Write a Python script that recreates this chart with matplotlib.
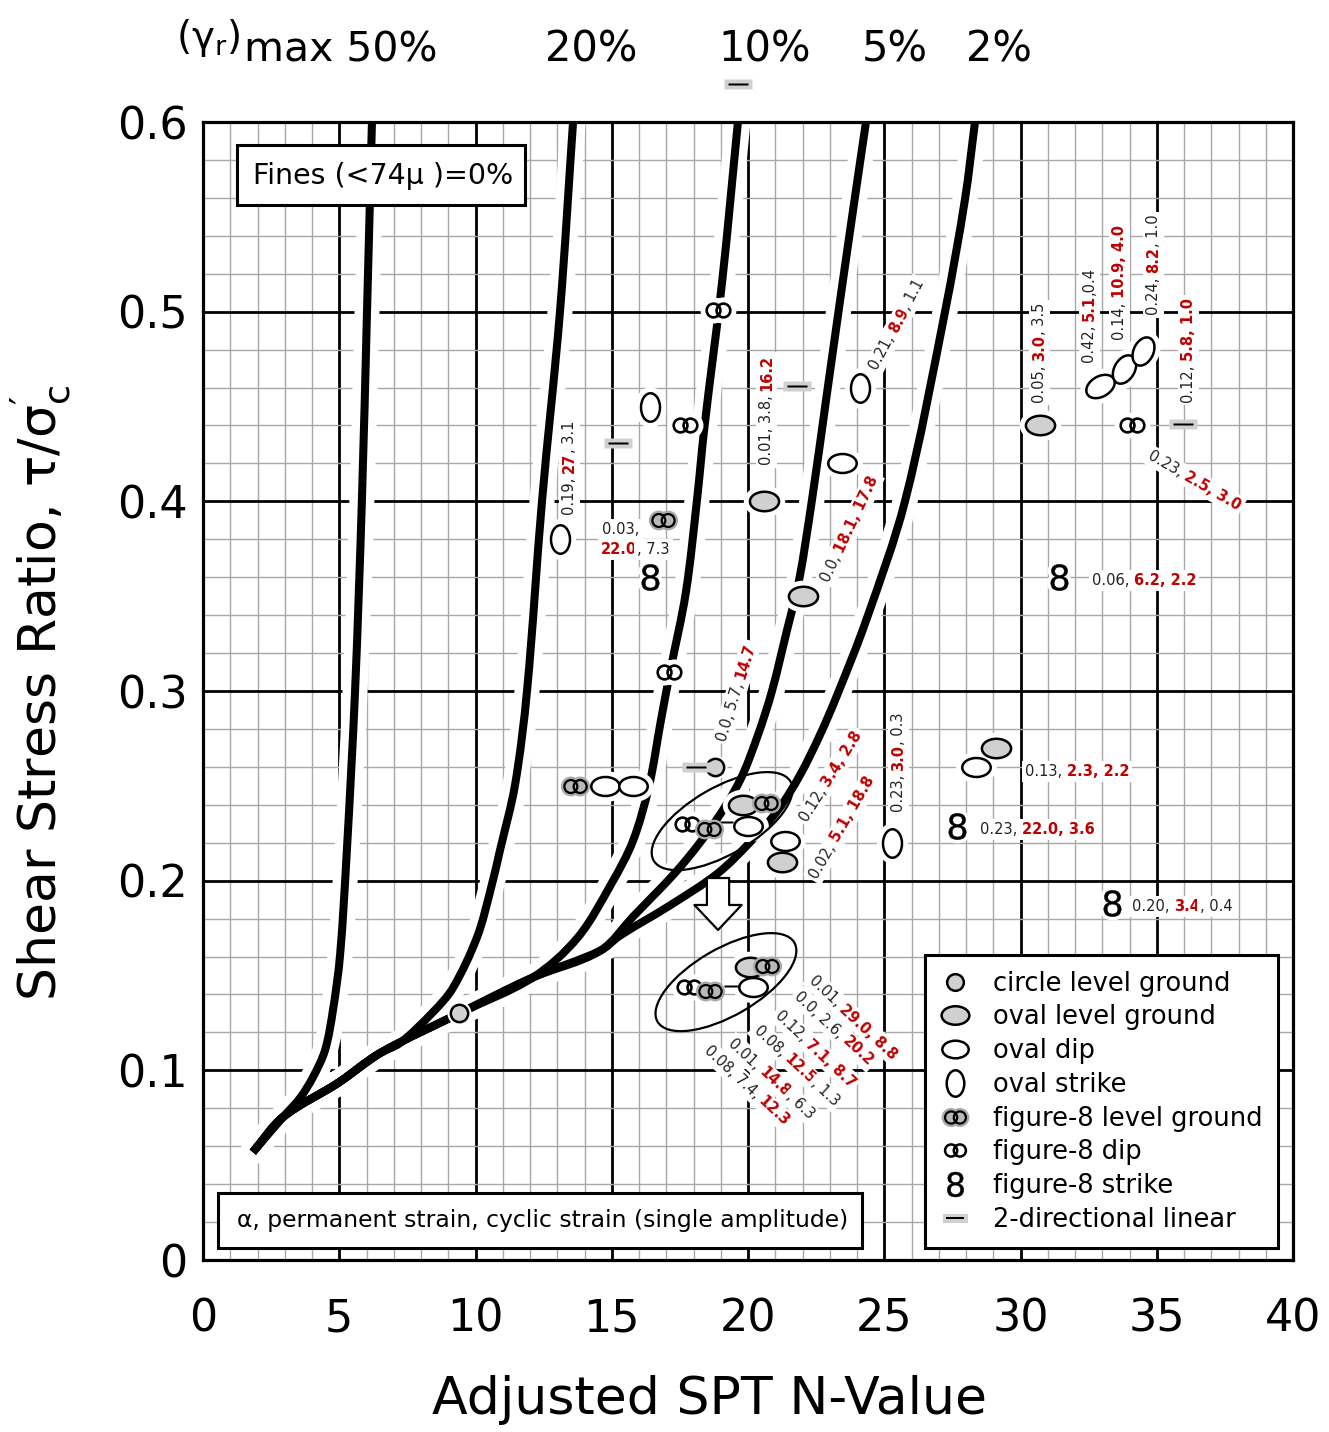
import numpy as np
import matplotlib
matplotlib.use("Agg")
import matplotlib.pyplot as plt
from matplotlib.path import Path
from matplotlib.transforms import Affine2D, ScaledTranslation
from matplotlib.patches import Ellipse, Rectangle, PathPatch
from matplotlib.lines import Line2D
from matplotlib.legend_handler import HandlerTuple
from matplotlib.font_manager import FontProperties
from matplotlib.ticker import MultipleLocator

plt.rcParams['font.family'] = ['DejaVu Sans']
plt.rcParams['mathtext.fontset'] = 'dejavusans'

# ---------------- data: curves of (gamma_r)max ----------------
trunk_x = [1.83, 2.94, 4.95, 6.50, 9.43, 12.11, 14.57]
trunk_y = [0.0569, 0.0754, 0.0933, 0.1091, 0.1302, 0.149, 0.163]

c50_x = [1.83, 2.94, 3.56, 4.04, 4.48, 4.77, 5.03, 5.28, 5.58, 5.83, 6.02, 6.20]
c50_y = [0.0569, 0.0754, 0.0854, 0.0965, 0.1107, 0.1318, 0.1608, 0.2161, 0.300, 0.400, 0.5008, 0.600]

c20_x = trunk_x[:4] + [7.23, 8.44, 9.17, 10.06, 10.55, 10.90, 11.45, 11.89, 12.44, 13.10, 13.58]
c20_y = trunk_y[:4] + [0.1144, 0.1307, 0.1434, 0.1703, 0.1950, 0.2161, 0.2504, 0.300, 0.400, 0.500, 0.600]

c10_x = trunk_x[:6] + [13.75, 15.01, 15.78, 16.37, 16.81, 17.14, 17.72, 18.13, 18.40, 19.06, 19.63]
c10_y = trunk_y[:6] + [0.170, 0.199, 0.221, 0.250, 0.285, 0.310, 0.352, 0.401, 0.439, 0.517, 0.600]

c5_x = trunk_x + [15.78, 17.50, 18.79, 19.71, 20.37, 20.88, 21.43, 21.87, 22.35, 22.86, 23.38, 23.85, 24.33]
c5_y = trunk_y + [0.181, 0.207, 0.231, 0.253, 0.277, 0.300, 0.332, 0.358, 0.401, 0.453, 0.506, 0.553, 0.600]

c2_x = trunk_x + [15.30, 17.14, 18.90, 20.15, 21.10, 21.91, 22.64, 23.27, 24.33, 25.76, 27.23, 27.96, 28.33]
c2_y = trunk_y + [0.171, 0.187, 0.204, 0.2214, 0.2372, 0.2557, 0.2768, 0.2978, 0.337, 0.400, 0.500, 0.559, 0.600]

curve_names = ["50%", "20%", "10%", "5%", "2%"]

# ---------------- data: observation symbols ----------------
circ_lg_x = [9.40, 18.80]
circ_lg_y = [0.130, 0.260]
oval_lg_x = [20.60, 22.00, 30.70, 29.10, 21.25, 19.80, 20.07]
oval_lg_y = [0.400, 0.350, 0.440, 0.270, 0.210, 0.240, 0.1545]
oval_dip_x = [23.45, 28.37, 21.35, 14.75, 15.78, 20.00, 20.18]
oval_dip_y = [0.420, 0.260, 0.221, 0.250, 0.250, 0.229, 0.144]
oval_tilt_x = [32.90, 33.80, 34.50]
oval_tilt_y = [0.461, 0.470, 0.479]
oval_tilt_ang = [30, 60, 65]
oval_strike_x = [13.10, 16.40, 24.10, 25.30]
oval_strike_y = [0.380, 0.450, 0.460, 0.220]
f8_lg_x = [16.88, 13.65, 18.57, 20.65, 18.60, 20.70]
f8_lg_y = [0.390, 0.250, 0.227, 0.241, 0.142, 0.155]
f8_dip_x = [17.70, 18.90, 17.10, 34.10, 17.75, 17.83]
f8_dip_y = [0.440, 0.501, 0.310, 0.440, 0.230, 0.144]
f8_strike_x = [16.40, 31.40, 27.67, 33.36]
f8_strike_y = [0.360, 0.360, 0.229, 0.188]
two_dir_x = [15.23, 21.80, 35.96, 18.10, 19.63]
two_dir_y = [0.431, 0.461, 0.441, 0.260, 0.620]
dash_x = [19.15, 19.40]
dash_y = [0.231, 0.1444]

# group ellipses (centre) and arrow
group_x = [19.05, 19.19]
group_y = [0.2314, 0.1465]
arrow_x = 18.9
arrow_y0, arrow_y1 = 0.2014, 0.174

# annotation labels: alpha, permanent strain, cyclic strain (red = bold)
lab_x = [13.39, 14.64, 14.61, 20.62, 24.55, 22.79, 18.97, 21.98, 22.35, 25.47,
         30.64, 32.48, 33.58, 34.83, 36.11, 34.75, 32.62, 30.17, 28.51, 34.09,
         22.35, 21.83, 21.10, 20.33, 19.41, 18.50]
lab_y = [0.3927, 0.386, 0.3753, 0.419, 0.470, 0.358, 0.274, 0.232, 0.202, 0.236,
         0.452, 0.473, 0.485, 0.498, 0.452, 0.4254, 0.359, 0.2583, 0.2277, 0.1871,
         0.1492, 0.1407, 0.1307, 0.1228, 0.1160, 0.1123]
lab_ang = [90, 0, 0, 90, 62, 65, 73, 58, 60, 90,
           90, 90, 90, 90, 90, -30, 0, 0, 0, 0,
           -43, -43, -43, -43, -43, -43]
lab_parts = [
    [("0.19, ", 0), ("27", 1), (", 3.1", 0)],
    [("0.03,", 0)],
    [("22.0", 1), (", 7.3", 0)],
    [("0.01, 3.8, ", 0), ("16.2", 1)],
    [("0.21, ", 0), ("8.9", 1), (", 1.1", 0)],
    [("0.0, ", 0), ("18.1, 17.8", 1)],
    [("0.0, 5.7, ", 0), ("14.7", 1)],
    [("0.12, ", 0), ("3.4, 2.8", 1)],
    [("0.02, ", 0), ("5.1, 18.8", 1)],
    [("0.23, ", 0), ("3.0", 1), (", 0.3", 0)],
    [("0.05, ", 0), ("3.0", 1), (", 3.5", 0)],
    [("0.42, ", 0), ("5.1", 1), (",0.4", 0)],
    [("0.14, ", 0), ("10.9, 4.0", 1)],
    [("0.24, ", 0), ("8.2", 1), (", 1.0", 0)],
    [("0.12, ", 0), ("5.8, 1.0", 1)],
    [("0.23, ", 0), ("2.5, 3.0", 1)],
    [("0.06, ", 0), ("6.2, 2.2", 1)],
    [("0.13, ", 0), ("2.3, 2.2", 1)],
    [("0.23, ", 0), ("22.0, 3.6", 1)],
    [("0.20, ", 0), ("3.4", 1), (", 0.4", 0)],
    [("0.01, ", 0), ("29.0, 8.8", 1)],
    [("0.0, 2.6, ", 0), ("20.2", 1)],
    [("0.12, ", 0), ("7.1, 8.7", 1)],
    [("0.08, ", 0), ("12.5", 1), (", 1.3", 0)],
    [("0.01, ", 0), ("14.8", 1), (", 6.3", 0)],
    [("0.08, 7.4, ", 0), ("12.3", 1)],
]

x_ticks = [0, 5, 10, 15, 20, 25, 30, 35, 40]
y_ticks = [0, 0.1, 0.2, 0.3, 0.4, 0.5, 0.6]
y_ticklabels = ["0", "0.1", "0.2", "0.3", "0.4", "0.5", "0.6"]

legend_labels = ["circle level ground", "oval level ground", "oval dip", "oval strike",
                 "figure-8 level ground", "figure-8 dip", "figure-8 strike", "2-directional linear"]

# ---------------- figure ----------------
W, H = 1329, 1432
fig = plt.figure(figsize=(W / 100, H / 100), dpi=100)
ax = fig.add_axes([203 / W, 1 - 1260 / H, 1090 / W, 1138 / H])
ax.set_xlim(0, 40)
ax.set_ylim(0, 0.6)

ax.xaxis.set_minor_locator(MultipleLocator(1))
ax.yaxis.set_minor_locator(MultipleLocator(0.02))
ax.set_xticks(x_ticks)
ax.set_xticklabels([str(v) for v in x_ticks])
ax.set_yticks(y_ticks)
ax.set_yticklabels(y_ticklabels)
ax.set_axisbelow(True)
ax.grid(which='minor', color='#a8a8a8', lw=1.0)
ax.grid(which='major', color='black', lw=2.0)
ax.tick_params(which='both', length=0)
ax.tick_params(axis='x', labelsize=32, pad=27)
ax.tick_params(axis='y', labelsize=32, pad=11)
for sp in ax.spines.values():
    sp.set_linewidth(2.3)

ax.set_xlabel("Adjusted SPT N-Value", fontsize=37.5)
ax.xaxis.set_label_coords(0.465, -0.101)
ax.set_ylabel(r"Shear Stress Ratio, $\mathregular{τ/σ^{\prime}_{c}}$", fontsize=37.5)
ax.yaxis.set_label_coords(-0.119, 0.498)


# curves: smooth cubic path through the read points (white halo, then black line)
def smooth_path(xs, ys):
    P = ax.transData.transform(np.column_stack([xs, ys]))
    n = len(P)
    verts = [P[0]]
    codes = [Path.MOVETO]
    for i in range(n - 1):
        p0 = P[i - 1] if i > 0 else P[i]
        p1, p2 = P[i], P[i + 1]
        p3 = P[i + 2] if i + 2 < n else P[i + 1]
        d = np.linalg.norm(p2 - p1)
        t1 = (p2 - p0) / np.linalg.norm(p2 - p0)
        t2 = (p3 - p1) / np.linalg.norm(p3 - p1)
        verts += [p1 + t1 * d / 3, p2 - t2 * d / 3, p2]
        codes += [Path.CURVE4] * 3
    return Path(ax.transData.inverted().transform(np.array(verts)), codes)


curves = [(c50_x, c50_y), (c20_x, c20_y), (c10_x, c10_y), (c5_x, c5_y), (c2_x, c2_y)]
paths = [smooth_path(cx, cy) for cx, cy in curves]
for p in paths:
    ax.add_patch(PathPatch(p, fill=False, ec='white', lw=18, capstyle='round', joinstyle='round', zorder=2))
for p in paths:
    ax.add_patch(PathPatch(p, fill=False, ec='black', lw=5.8, capstyle='butt', joinstyle='round', zorder=3))


# ---------------- marker shapes ----------------
def ell(w, h, ang=0):
    return Path.unit_circle().transformed(Affine2D().scale(w, h).rotate_deg(ang))


def rect(w, h):
    return Path([(-w / 2, -h / 2), (w / 2, -h / 2), (w / 2, h / 2), (-w / 2, h / 2), (-w / 2, -h / 2)],
                [Path.MOVETO, Path.LINETO, Path.LINETO, Path.LINETO, Path.CLOSEPOLY])


oval_h = ell(1.5, 1.0)
oval_v = ell(1.0, 1.5)
fig8 = Path.make_compound_path(
    Path.unit_circle().transformed(Affine2D().scale(0.5).translate(-0.36, 0)),
    Path.unit_circle().transformed(Affine2D().scale(0.5).translate(0.36, 0)))
grey_rect = rect(2.0, 0.72)
black_bar = rect(2.0, 0.22)

GREY = '#d0d0d0'
HALO_G = '#a9a9a9'


def mk(xs, ys, marker, ms, mfc, mec='black', mew=1.8, halo=3.5, z=5, clip=True):
    if halo:
        ax.plot(xs, ys, ls='none', marker=marker, ms=ms, mfc='white', mec='white',
                mew=mew + 2 * halo, zorder=z - 1, clip_on=clip)
    ax.plot(xs, ys, ls='none', marker=marker, ms=ms, mfc=mfc, mec=mec, mew=mew, zorder=z, clip_on=clip)


mk(circ_lg_x, circ_lg_y, 'o', 12.5, GREY, halo=1.5)
mk(oval_lg_x, oval_lg_y, oval_h, 21, GREY)
mk(oval_dip_x, oval_dip_y, oval_h, 20.5, 'white')
for x, y, a in zip(oval_tilt_x, oval_tilt_y, oval_tilt_ang):
    mk([x], [y], ell(1.5, 1.0, a), 21, 'white')
mk(oval_strike_x, oval_strike_y, oval_v, 20.5, 'white')
ax.plot(f8_lg_x, f8_lg_y, ls='none', marker=fig8, ms=16, mfc=HALO_G, mec=HALO_G, mew=5, zorder=5.2)
ax.plot(f8_lg_x, f8_lg_y, ls='none', marker=fig8, ms=16, mfc='#b8b8b8', mec='black', mew=1.6, zorder=5.3)
mk(f8_dip_x, f8_dip_y, fig8, 17, 'white', mew=1.9)
mk(f8_strike_x, f8_strike_y, '$8$', 19, 'black', mec='black', mew=0.3, halo=2.5)
ax.plot(two_dir_x, two_dir_y, ls='none', marker=grey_rect, ms=19.5, mfc=GREY, mec='none', zorder=5, clip_on=False)
ax.plot(two_dir_x, two_dir_y, ls='none', marker=black_bar, ms=14.5, mfc='black', mec='none', zorder=5.1, clip_on=False)
ax.plot(dash_x, dash_y, ls='none', marker=black_bar, ms=11, mfc='black', mec='none', zorder=5.1)

# group ellipses
for gx, gy in zip(group_x, group_y):
    tr = fig.dpi_scale_trans + ScaledTranslation(gx, gy, ax.transData)
    ax.add_patch(Ellipse((0, 0), 1.58, 0.67, angle=30, transform=tr, fill=False,
                         ec='black', lw=1.6, zorder=5.5))

ax.annotate('', xy=(arrow_x, arrow_y1), xytext=(arrow_x, arrow_y0),
            arrowprops=dict(arrowstyle='simple,head_length=0.9,head_width=1.7,tail_width=0.8',
                            mutation_scale=20, fc='white', ec='black', lw=1.6,
                            shrinkA=0, shrinkB=0), zorder=6)

# ---------------- annotation labels ----------------
fig.canvas.draw()
renderer = fig.canvas.get_renderer()
FS = 10.5
fp_n = FontProperties(family='DejaVu Sans', size=FS)
fp_r = FontProperties(family='DejaVu Sans', size=FS, weight='bold')


def pw(s, fp):
    w1, _, _ = renderer.get_text_width_height_descent(s + "x", fp, ismath=False)
    w2, _, _ = renderer.get_text_width_height_descent("x", fp, ismath=False)
    return w1 - w2


inv = ax.transData.inverted()
for x, y, a, parts in zip(lab_x, lab_y, lab_ang, lab_parts):
    x0, y0 = ax.transData.transform((x, y))
    th = np.deg2rad(a)
    d = 0.0
    for s, red in parts:
        fp = fp_r if red else fp_n
        px, py = x0 + d * np.cos(th), y0 + d * np.sin(th)
        dx, dy = inv.transform((px, py))
        ax.text(dx, dy, s, fontproperties=fp, color='#c00000' if red else '#222222',
                rotation=a, rotation_mode='anchor', ha='left', va='center_baseline',
                zorder=2.6, bbox=dict(fc='white', ec='none', pad=2.0))
        d += pw(s, fp)

# ---------------- boxes ----------------
ax.add_patch(Rectangle((34 / 1090, 1 - 83 / 1138), 288 / 1090, 60 / 1138, transform=ax.transAxes,
                       fc='white', ec='black', lw=2.2, zorder=7))
ax.text((383 - 203) / 1090, (1260 - 176) / 1138, "Fines (<74μ )=0%", transform=ax.transAxes,
        fontsize=20.5, ha='center', va='center', zorder=8)
ax.add_patch(Rectangle((15 / 1090, 12 / 1138), 644 / 1090, 55 / 1138, transform=ax.transAxes,
                       fc='white', ec='black', lw=2.2, zorder=7))
ax.text((543 - 203) / 1090, (1260 - 1221) / 1138,
        "α, permanent strain, cyclic strain (single amplitude)", transform=ax.transAxes,
        fontsize=16.9, ha='center', va='center', zorder=8)


# ---------------- legend ----------------
def L(marker, ms, mfc, mec='black', mew=1.8):
    return Line2D([], [], ls='none', marker=marker, ms=ms, mfc=mfc, mec=mec, mew=mew)


handles = [
    L('o', 12, GREY),
    L(oval_h, 20, GREY),
    L(oval_h, 19, 'white'),
    L(oval_v, 19, 'white'),
    (L(fig8, 15, HALO_G, HALO_G, 5), L(fig8, 15, '#b8b8b8', 'black', 1.6)),
    L(fig8, 15, 'white'),
    L('$8$', 18, 'black', 'black', 0.3),
    (L(grey_rect, 18, GREY, 'none', 0), L(black_bar, 13, 'black', 'none', 0)),
]
leg = ax.legend(handles, legend_labels, handler_map={tuple: HandlerTuple(ndivide=1)},
                loc='lower right', bbox_to_anchor=(0.986, 0.0105), borderaxespad=0,
                fontsize=18.5, frameon=True, fancybox=False, edgecolor='black', framealpha=1,
                handlelength=1.2, handletextpad=0.85, labelspacing=0.3, borderpad=0.6)
leg.get_frame().set_linewidth(2.2)
leg.set_zorder(10)

# ---------------- top labels ----------------
yb = 1 - 62 / H
fig.text(176 / W, 1 - 49 / H, r"$\mathregular{(γ_{r})}$", fontsize=28, va='baseline', ha='left')
fig.text(244 / W, yb, "max 50%", fontsize=29.5, va='baseline', ha='left')
for xp, s in zip([545, 718, 862, 966], curve_names[1:]):
    fig.text(xp / W, yb, s, fontsize=30, va='baseline', ha='left')

fig.savefig("out.png", dpi=100)
